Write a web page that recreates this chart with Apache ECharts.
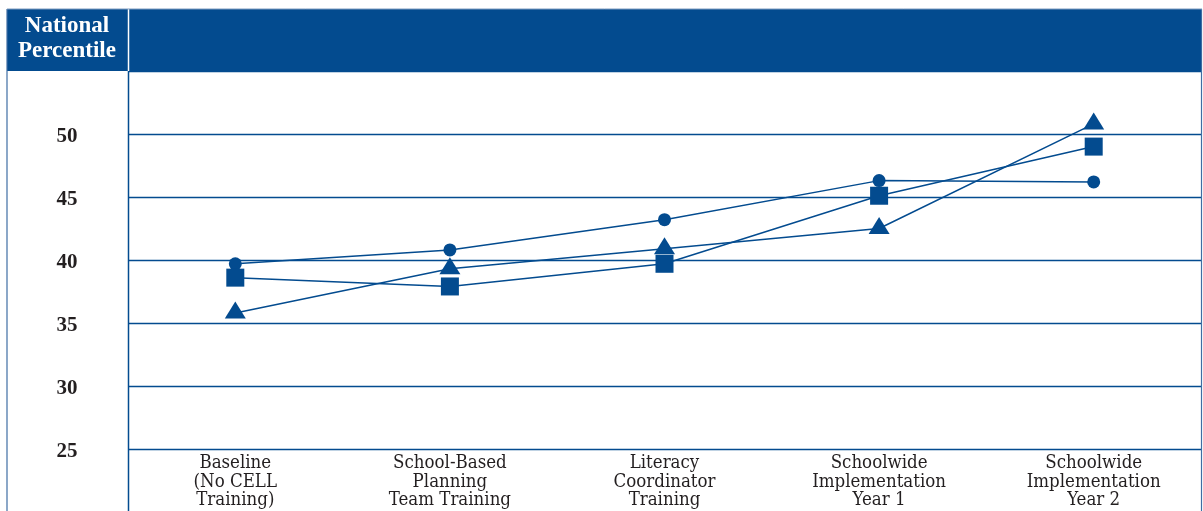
<!DOCTYPE html>
<html>
<head>
<meta charset="utf-8">
<script src="https://cdn.jsdelivr.net/npm/echarts@6/dist/echarts.min.js"></script>
<style>
  html, body { margin: 0; padding: 0; background: #ffffff; }
  #chart { width: 1203px; height: 511px; }
</style>
</head>
<body>
<div id="chart"></div>
<script>
// Training stages along the horizontal axis
const stages = [
  'Baseline\n(No CELL\nTraining)',
  'School-Based\nPlanning\nTeam Training',
  'Literacy\nCoordinator\nTraining',
  'Schoolwide\nImplementation\nYear 1',
  'Schoolwide\nImplementation\nYear 2'
];

// National percentile scores for the three groups
const circleScores   = [39.7, 40.8, 43.2, 46.3, 46.2];
const squareScores   = [38.6, 37.9, 39.7, 45.1, 49.0];
const triangleScores = [35.8, 39.3, 40.9, 42.5, 50.8];

// Vertical axis range and tick step
const yMin = 25;
const yMax = 55;
const yStep = 5;

const BLUE = '#034b8f';
const TEXT = '#231f20';
const SERIF = '"Liberation Serif", "DejaVu Serif", serif';
const SERIF_NARROW = '"DejaVu Serif Condensed", "Liberation Serif", serif';

const chart = echarts.init(document.getElementById('chart'), null, { renderer: 'canvas' });

function lineSeries(data, symbol, size, offset) {
  return {
    type: 'line',
    data: data,
    symbol: symbol,
    symbolSize: size,
    symbolOffset: offset || [0, 0],
    showAllSymbol: true,
    lineStyle: { color: BLUE, width: 1.5 },
    itemStyle: { color: BLUE, borderWidth: 0 },
    emphasis: { disabled: true },
    animation: false,
    z: 3
  };
}

chart.setOption({
  animation: false,
  backgroundColor: '#ffffff',
  grid: { left: 128, right: 2, top: 71, bottom: 62, containLabel: false },
  xAxis: {
    type: 'category',
    data: stages,
    boundaryGap: true,
    axisLine: { show: false },
    axisTick: { show: false },
    splitLine: { show: false },
    axisLabel: {
      interval: 0,
      margin: 5,
      color: TEXT,
      fontFamily: SERIF_NARROW,
      fontSize: 18.5,
      lineHeight: 18.5,
      verticalAlign: 'top'
    }
  },
  yAxis: {
    type: 'value',
    min: yMin,
    max: yMax,
    interval: yStep,
    axisLine: { show: false },
    axisTick: { show: false },
    splitLine: { show: true, lineStyle: { color: BLUE, width: 1.3 } },
    axisLabel: {
      margin: 61,
      align: 'center',
      verticalAlign: 'top',
      lineHeight: 6,
      color: TEXT,
      fontFamily: SERIF,
      fontWeight: 'bold',
      fontSize: 21,
      formatter: function (v) { return v >= yMax ? '' : String(v); }
    }
  },
  series: [
    lineSeries(circleScores, 'circle', 13),
    lineSeries(squareScores, 'rect', 18),
    lineSeries(triangleScores, 'triangle', [21, 17], [0, -3])
  ],
  graphic: [
    // header band
    { type: 'rect', z: 10, shape: { x: 7, y: 9, width: 1194, height: 62 }, style: { fill: BLUE } },
    // divider inside the header
    { type: 'line', z: 11, shape: { x1: 128.5, y1: 9, x2: 128.5, y2: 71 }, style: { stroke: '#ffffff', lineWidth: 1.5 } },
    // left column rule below the header
    { type: 'line', z: 11, shape: { x1: 128.5, y1: 71, x2: 128.5, y2: 511 }, style: { stroke: BLUE, lineWidth: 1.5 } },
    // outer frame
    { type: 'line', z: 11, shape: { x1: 7, y1: 9, x2: 7, y2: 511 }, style: { stroke: '#3f6da3', lineWidth: 1.2 } },
    { type: 'line', z: 11, shape: { x1: 1201.5, y1: 9, x2: 1201.5, y2: 511 }, style: { stroke: '#3f6da3', lineWidth: 1.2 } },
    { type: 'line', z: 11, shape: { x1: 7, y1: 9, x2: 1202, y2: 9 }, style: { stroke: '#7f9cc0', lineWidth: 1 } },
    // header title
    {
      type: 'text', z: 12,
      style: {
        text: 'National\nPercentile',
        x: 67, y: 14,
        align: 'center',
        verticalAlign: 'top',
        fill: '#ffffff',
        font: 'bold 23px ' + SERIF,
        lineHeight: 25
      }
    }
  ]
});
</script>
</body>
</html>
